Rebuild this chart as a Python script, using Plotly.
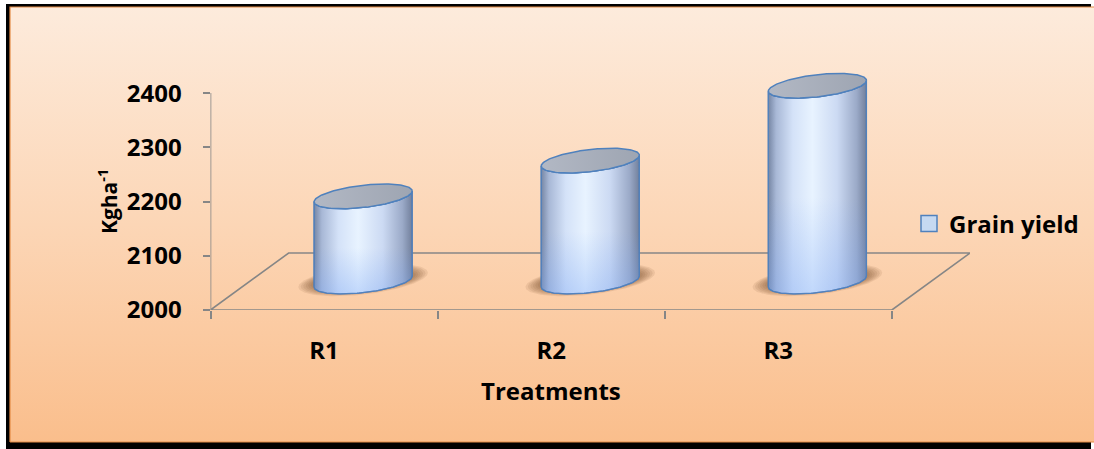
import numpy as np
import plotly.graph_objects as go

# ---- data ----
categories = ["R1", "R2", "R3"]
grain_yield = [2157, 2223, 2361]
y_ticks = [2000, 2100, 2200, 2300, 2400]
series_name = "Grain yield"

# ---- canvas / plot box (pixels) ----
W, H = 1094, 449
PX_L, PX_R = 210.5, 970.0
PX_B, PX_T = 310.0, 66.0
Y_MIN, Y_MAX = 2000, 2450

# oblique floor depth, in axis units
DEPTH_X = 0.344
DEPTH_Y = 105.0
X_MIN = -0.5
X_MAX = len(categories) - 0.5 + DEPTH_X

# cylinder cross-section (ellipse) parameters in axis units
RX = 0.216
EC, ES = 10.0, 20.5

AXIS_GREY = "#868686"
FONT = "Open Sans"


def ellipse(cx, cy, theta, sx=1.0, sy=1.0):
    x = cx + sx * RX * np.cos(theta)
    y = cy + sy * (EC * np.cos(theta) - ES * np.sin(theta))
    return x, y


fig = go.Figure()

# ---- page background (full-canvas helper axes x / y) ----
bx = [10, W + 2, W + 2, 10, 10]
by = [H - 442, H - 442, H - 7, H - 7, H - 442]
fig.add_trace(go.Scatter(
    x=bx, y=by, mode="lines", fill="toself",
    fillgradient=dict(type="vertical",
                      colorscale=[[0, "rgb(250,190,140)"],
                                  [0.5, "rgb(252,214,182)"],
                                  [1, "rgb(253,235,220)"]]),
    line=dict(color="rgb(228,140,70)", width=1.2),
    hoverinfo="skip", showlegend=False, xaxis="x", yaxis="y"))

# ---- floor and value axis lines ----
depth_base = Y_MIN + DEPTH_Y
n = len(categories)
fig.add_trace(go.Scatter(
    x=[X_MIN, n - 0.5, n - 0.5 + DEPTH_X, X_MIN + DEPTH_X, X_MIN],
    y=[Y_MIN, Y_MIN, depth_base, depth_base, Y_MIN],
    mode="lines", line=dict(color=AXIS_GREY, width=1.6),
    hoverinfo="skip", showlegend=False, cliponaxis=False,
    xaxis="x2", yaxis="y2"))
fig.add_trace(go.Scatter(
    x=[X_MIN, X_MIN], y=[Y_MIN, y_ticks[-1]],
    mode="lines", line=dict(color=AXIS_GREY, width=1.6),
    hoverinfo="skip", showlegend=False, cliponaxis=False,
    xaxis="x2", yaxis="y2"))

# ---- cylinders ----
theta_full = np.linspace(0, 2 * np.pi, 160)
theta_front = np.linspace(np.pi, 0, 90)
base = Y_MIN + DEPTH_Y / 2

for i, v in enumerate(grain_yield):
    cx = i + DEPTH_X / 2
    top = v + DEPTH_Y / 2

    # soft shadow on the floor
    for k in range(7):
        sxv, syv = ellipse(cx, base + 3, theta_full, sx=1.02 + 0.05 * k, sy=0.9 + 0.07 * k)
        fig.add_trace(go.Scatter(
            x=sxv, y=syv, mode="lines", fill="toself",
            fillcolor="rgba(100,55,20,0.095)", line=dict(width=0),
            hoverinfo="skip", showlegend=False, cliponaxis=False,
            xaxis="x2", yaxis="y2"))

    # body
    bxs, bys = ellipse(cx, base, theta_front)
    txs, tys = ellipse(cx, top, theta_front[::-1])
    px = np.concatenate([bxs, txs, bxs[:1]])
    py = np.concatenate([bys, tys, bys[:1]])
    fig.add_trace(go.Scatter(
        x=px, y=py, mode="lines", fill="toself",
        fillgradient=dict(type="horizontal",
                          colorscale=[[0.0, "rgb(118,134,164)"],
                                      [0.08, "rgb(168,184,214)"],
                                      [0.25, "rgb(212,226,248)"],
                                      [0.45, "rgb(232,243,255)"],
                                      [0.7, "rgb(204,218,243)"],
                                      [0.9, "rgb(155,170,200)"],
                                      [1.0, "rgb(114,128,156)"]]),
        line=dict(color="rgba(79,120,180,0.85)", width=1.2),
        hoverinfo="skip", showlegend=False, cliponaxis=False,
        xaxis="x2", yaxis="y2"))
    # bluish tint toward the base
    fig.add_trace(go.Scatter(
        x=px, y=py, mode="lines", fill="toself",
        fillgradient=dict(type="vertical",
                          colorscale=[[0.0, "rgba(120,165,245,0.35)"],
                                      [0.45, "rgba(120,165,245,0.0)"],
                                      [1.0, "rgba(120,165,245,0.0)"]]),
        line=dict(color="rgba(79,129,189,0.9)", width=1.3),
        hoverinfo="skip", showlegend=False, cliponaxis=False,
        xaxis="x2", yaxis="y2"))

    # top cap
    exs, eys = ellipse(cx, top, theta_full)
    fig.add_trace(go.Scatter(
        x=exs, y=eys, mode="lines", fill="toself",
        fillgradient=dict(type="horizontal",
                          colorscale=[[0, "rgb(178,184,196)"],
                                      [1, "rgb(158,165,178)"]]),
        line=dict(color="rgb(79,129,189)", width=1.5),
        hoverinfo="skip", showlegend=False, cliponaxis=False,
        xaxis="x2", yaxis="y2"))

# legend entry
fig.add_trace(go.Scatter(
    x=[None], y=[None], mode="markers", name=series_name,
    marker=dict(symbol="square", size=16, color="rgb(198,217,241)",
                line=dict(color="rgb(79,129,189)", width=1.5)),
    xaxis="x2", yaxis="y2"))

tick_font = dict(family=FONT, size=24, color="black", weight="bold")

fig.update_layout(
    width=W, height=H,
    margin=dict(l=0, r=0, t=0, b=0, autoexpand=False),
    paper_bgcolor="white",
    plot_bgcolor="rgba(0,0,0,0)",
    showlegend=True,
    legend=dict(x=909 / W, y=1 - 224 / H, xanchor="left", yanchor="middle",
                bgcolor="rgba(0,0,0,0)", font=tick_font, itemsizing="trace"),
    xaxis=dict(domain=[0, 1], range=[0, W], visible=False, fixedrange=True,
               automargin=False),
    yaxis=dict(domain=[0, 1], range=[0, H], visible=False, fixedrange=True,
               automargin=False),
    xaxis2=dict(domain=[PX_L / W, PX_R / W], range=[X_MIN, X_MAX], anchor="y2",
                automargin=False,
                tickmode="array", tickvals=list(range(n)), ticktext=categories,
                ticks="", showgrid=False, zeroline=False, showline=False,
                ticklabelstandoff=24, tickfont=tick_font,
                minor=dict(tickmode="array", tickvals=[k - 0.5 for k in range(n + 1)],
                           ticks="outside", ticklen=8, tickwidth=1.6,
                           tickcolor=AXIS_GREY, showgrid=False)),
    yaxis2=dict(domain=[(H - PX_B) / H, (H - PX_T) / H], range=[Y_MIN, Y_MAX],
                anchor="x2", automargin=False, tickmode="array", tickvals=y_ticks,
                ticks="outside", ticklen=7, tickwidth=1.6, tickcolor=AXIS_GREY,
                showgrid=False, zeroline=False, showline=False,
                ticklabelstandoff=16, tickfont=tick_font),
    shapes=[dict(type="rect", xref="paper", yref="paper",
                 x0=6 / W, x1=(W - 3) / W, y0=0, y1=1 - 4 / H,
                 fillcolor="black", line=dict(width=0), layer="below")],
    annotations=[
        dict(text="Treatments", x=551 / W, y=1 - 390 / H, xref="paper", yref="paper",
             showarrow=False, xanchor="center", yanchor="middle",
             font=dict(family=FONT, size=24, color="black", weight="bold")),
        dict(text="Kgha<sup>-1</sup>", x=107 / W, y=1 - 202 / H, xref="paper", yref="paper",
             showarrow=False, xanchor="center", yanchor="middle", textangle=-90,
             font=dict(family=FONT, size=21, color="black", weight="bold")),
    ],
)

fig.write_html("out.html")
